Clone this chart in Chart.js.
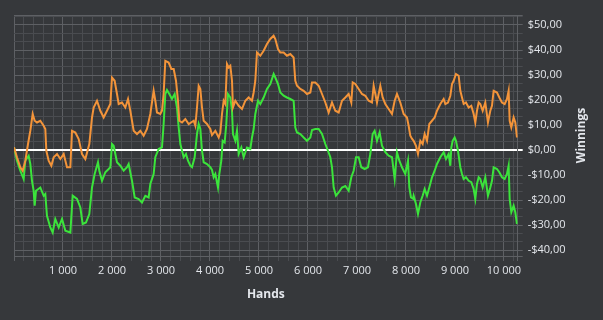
<!DOCTYPE html>
<html>
<head>
<meta charset="utf-8">
<script src="https://cdn.jsdelivr.net/npm/chart.js@4"></script>
<style>
  body { margin: 0; background: #36383b; }
  canvas { display: block; }
</style>
</head>
<body>
<canvas id="myChart" width="603" height="320"></canvas>
<script>
// Values (hands played, winnings in $)
var orangeHands = [0, 61, 129, 177, 231, 286, 333, 381, 422, 469, 537, 605, 639, 660, 707, 762, 810, 878, 946, 1014,
    1082, 1150, 1184, 1252, 1320, 1388, 1456, 1537, 1592, 1626, 1694, 1762, 1830, 1898, 1966, 2000, 2054, 2102, 2136, 2204,
    2272, 2327, 2374, 2442, 2510, 2578, 2646, 2714, 2782, 2850, 2884, 2918, 2986, 3020, 3054, 3088, 3156, 3211, 3259, 3306,
    3347, 3374, 3429, 3497, 3565, 3667, 3701, 3735, 3769, 3803, 3837, 3871, 3939, 4007, 4041, 4109, 4177, 4211, 4245, 4279,
    4313, 4347, 4381, 4415, 4449, 4469, 4517, 4585, 4653, 4721, 4789, 4857, 4891, 4925, 4959, 5027, 5095, 5163, 5231, 5299,
    5333, 5388, 5435, 5503, 5571, 5639, 5707, 5741, 5776, 5844, 5912, 5980, 6048, 6082, 6150, 6218, 6286, 6354, 6422, 6490,
    6558, 6626, 6694, 6762, 6830, 6884, 6912, 6966, 7034, 7102, 7170, 7238, 7306, 7340, 7374, 7408, 7476, 7524, 7578, 7646,
    7714, 7769, 7816, 7884, 7952, 8020, 8054, 8088, 8122, 8156, 8204, 8245, 8293, 8340, 8381, 8429, 8476, 8531, 8585, 8633,
    8701, 8769, 8803, 8857, 8905, 8939, 8973, 9020, 9075, 9109, 9143, 9177, 9224, 9279, 9333, 9381, 9415, 9449, 9483, 9517,
    9565, 9619, 9673, 9721, 9755, 9789, 9857, 9905, 9959, 10014, 10061, 10095, 10116, 10150, 10197, 10231, 10265];
var orangeWinnings = [1.1, -2.9, -6.9, -8.3, -4.3, 2.4, 7.7, 14.4, 11.7, 11, 11.7, 9.7, 8.4, -0.3, -4.3, -6.3, -2.9, -1.6, -3.6, -1.6,
    -6.9, -6.9, 7.7, 7, 4.4, -1.6, -3.6, 2.4, 13, 17, 19.7, 15.7, 13, 15.7, 18.4, 29, 27.7, 22.4, 18.4, 19,
    17, 20.4, 15.7, 7.7, 6.4, 7.7, 5.7, 8.4, 14.4, 23.7, 19.7, 15, 14.4, 15.7, 22.4, 35.7, 35, 32.4, 32.4, 27.7,
    19.7, 11.7, 11, 12.4, 10.4, 11.7, 9.7, 17, 25.7, 24.4, 17, 11.7, 10.4, 8.4, 6, 7.7, 5, 7, 14.4, 19.7,
    18.4, 34.4, 33, 33.7, 27.7, 17, 19.7, 17.7, 16.4, 19.7, 21, 19.7, 23, 27.7, 39, 37.7, 39.7, 42.4, 44.4, 45.7,
    44.4, 40.4, 39, 39, 37.7, 38.4, 37, 27.7, 25.7, 24.4, 23.7, 22.4, 23, 27, 27, 25.7, 22.4, 19, 15, 19,
    15.7, 15, 19.7, 21, 22.4, 19, 27, 26.4, 24.4, 22.4, 21.7, 19.7, 19, 25.7, 22.4, 19, 25.7, 21, 18.4, 16.4,
    14.4, 19.7, 22.4, 19, 14.4, 13, 9.7, 5.7, 4.5, 3.7, 1.7, -1.6, 3.7, 2.4, 6.4, 3.7, 10.4, 11.7, 13, 15.7,
    18.4, 20.4, 18.4, 19, 21.7, 26.4, 27.7, 30.4, 29.7, 23.7, 21, 18.4, 19, 17, 17.7, 14.4, 11, 15.7, 19, 18.4,
    15.7, 19, 11, 15.7, 17.7, 23.7, 23, 21, 19, 18.4, 20.4, 23.7, 11.7, 9, 13, 11, 5];

var greenHands = [0, 61, 129, 197, 231, 299, 333, 367, 401, 422, 449, 537, 605, 639, 673, 741, 789, 843, 912, 980,
    1048, 1150, 1197, 1286, 1354, 1401, 1469, 1537, 1592, 1646, 1714, 1741, 1796, 1864, 1932, 1966, 2000, 2034, 2068, 2102,
    2170, 2238, 2306, 2340, 2408, 2463, 2544, 2612, 2680, 2748, 2782, 2850, 2884, 2952, 3020, 3054, 3088, 3122, 3170, 3224,
    3279, 3326, 3361, 3395, 3429, 3463, 3510, 3551, 3599, 3633, 3687, 3735, 3769, 3803, 3837, 3871, 3939, 4007, 4041, 4075,
    4109, 4163, 4190, 4231, 4258, 4299, 4333, 4367, 4415, 4449, 4469, 4517, 4551, 4585, 4640, 4687, 4755, 4823, 4857, 4891,
    4925, 4980, 5027, 5095, 5163, 5231, 5299, 5333, 5388, 5435, 5503, 5571, 5639, 5707, 5741, 5776, 5844, 5912, 5980, 6048,
    6082, 6150, 6218, 6286, 6354, 6408, 6456, 6490, 6524, 6571, 6626, 6694, 6762, 6830, 6884, 6932, 6980, 7034, 7088, 7156,
    7224, 7272, 7320, 7360, 7408, 7462, 7510, 7578, 7646, 7714, 7769, 7816, 7864, 7918, 7986, 8041, 8068, 8102, 8143, 8156,
    8204, 8245, 8293, 8340, 8381, 8429, 8476, 8531, 8585, 8633, 8701, 8769, 8816, 8871, 8905, 8925, 8952, 8993, 9020, 9061,
    9109, 9143, 9177, 9224, 9279, 9333, 9381, 9415, 9449, 9483, 9517, 9565, 9619, 9673, 9721, 9755, 9789, 9857, 9905, 9959,
    10014, 10061, 10095, 10116, 10150, 10197, 10231, 10265];
var greenWinnings = [1, -4.3, -8.3, -11.6, -4.3, -2.3, -5.6, -12.3, -16.3, -22.3, -16.3, -15, -18.3, -17.6, -26.3, -31, -33, -27.6, -31, -27.6,
    -32.3, -33, -18.3, -19.6, -23, -29.6, -29, -25.6, -15, -9.6, -4.9, -8.3, -12.3, -8.9, -7.6, -6.9, 2.4, 1.7, -1.6, -4.9,
    -6.3, -8.3, -6.9, -5.6, -12.3, -19, -19.6, -21, -18.3, -19, -13.6, -9.6, -2.9, 0.4, 1.1, 10.4, 22.4, 24, 22.4, 20.4,
    22.4, 17, 9, 2.4, -0.3, -2.9, -1.6, -4.3, -6.3, -6.9, -2.9, 6.4, 10.4, 8.4, -0.3, -4.9, -5.6, -6.9, -8, -10.9,
    -9.6, -15, -9.6, -4.3, 3.7, 3, 10.4, 22.4, 21, 15.7, 6.4, 3.7, 7.7, -1.6, 1, -2.9, 1, 0.4, 5, 8.4,
    14.4, 19.7, 18.4, 21, 24.4, 26.4, 30.4, 29, 26.4, 23, 21.7, 21, 20.4, 19.7, 9, 7, 6.4, 5, 3.7, 5,
    8, 8.4, 8.4, 6.4, 2.4, -0.3, -2.9, -6.9, -15, -18.3, -17, -15, -14.4, -16.3, -10.9, -8.3, -2.9, -2.9, -6.9, -7.6,
    -6.9, -1.6, 6.4, 7.7, 3.7, 7, 1.7, -0.9, -2.3, -2.9, -11.6, -0.9, -4.3, -6.9, -9.6, -4.3, -15, -19, -19.5, -18.3,
    -21.6, -25.6, -20.9, -18.3, -15.6, -18.3, -15, -10.9, -8.3, -5.6, -2.9, -0.9, -3.6, -1.6, -6.3, 1, 3.7, 5, 3.7, -0.3,
    -6.9, -9.6, -11.6, -10.9, -12.3, -12.9, -15.6, -19.6, -13.6, -10.9, -11.6, -15, -10.9, -18.3, -15, -12.3, -6.9, -7.6, -8.9, -10.9,
    -11.6, -9.6, -6.3, -19.6, -24.9, -22.3, -24.9, -29.6];

// Axis ranges and grid steps
var handsMax = 10280;
var handsStep = 200;
var winMin = -42.4;
var winMax = 54;
var winStep = 10 / 3;

function toPoints(xs, ys) {
    return xs.map(function (x, i) { return { x: x, y: ys[i] }; });
}

function isMultiple(v, step) {
    return Math.abs(v / step - Math.round(v / step)) < 1e-6;
}

function money(v) {
    var r = Math.round(v);
    var s = '$' + Math.abs(r).toFixed(2).replace('.', ',');
    return r < 0 ? '-' + s : s;
}

var minorGrid = '#4a4c50';
var majorGrid = '#5e6064';
var labelColor = '#e4e7ec';

// Draws the right-hand axis title reading bottom to top
var winningsTitle = {
    id: 'winningsTitle',
    afterDraw: function (chart) {
        var ctx = chart.ctx;
        var area = chart.chartArea;
        ctx.save();
        ctx.translate(582, (area.top + area.bottom) / 2);
        ctx.rotate(-Math.PI / 2);
        ctx.font = 'bold 12px "Open Sans"';
        ctx.fillStyle = labelColor;
        ctx.textAlign = 'center';
        ctx.textBaseline = 'middle';
        ctx.fillText('Winnings', 0, 0);
        ctx.restore();
    }
};

var ctx = document.getElementById('myChart').getContext('2d');
var myChart = new Chart(ctx, {
    type: 'line',
    data: {
        datasets: [{
            data: toPoints(orangeHands, orangeWinnings),
            borderColor: '#f3943a',
            borderWidth: 2,
            pointRadius: 0,
            tension: 0
        }, {
            data: toPoints(greenHands, greenWinnings),
            borderColor: '#3be43b',
            borderWidth: 2,
            pointRadius: 0,
            tension: 0
        }]
    },
    options: {
        responsive: false,
        animation: false,
        events: [],
        layout: { padding: { left: 14, top: 15, right: 0, bottom: 0 } },
        plugins: {
            legend: { display: false },
            tooltip: { enabled: false }
        },
        scales: {
            x: {
                type: 'linear',
                min: 0,
                max: handsMax,
                afterFit: function (scale) { scale.height = 64; },
                afterBuildTicks: function (scale) {
                    var ticks = [];
                    for (var v = 0; v < handsMax; v += handsStep) ticks.push({ value: v });
                    ticks.push({ value: handsMax });
                    scale.ticks = ticks;
                },
                border: { color: majorGrid, width: 1 },
                grid: {
                    tickLength: 5,
                    color: function (c) {
                        var v = c.tick ? c.tick.value : 0;
                        return (isMultiple(v, 1000) || v === handsMax) ? majorGrid : minorGrid;
                    }
                },
                ticks: {
                    autoSkip: false,
                    maxRotation: 0,
                    padding: 3,
                    color: labelColor,
                    font: { family: 'Open Sans', size: 11 },
                    callback: function (v) {
                        if (v === 0 || !isMultiple(v, 1000)) return '';
                        return String(v).replace(/\B(?=(\d{3})+(?!\d))/g, ' ');
                    }
                },
                title: {
                    display: true,
                    text: 'Hands',
                    color: labelColor,
                    font: { family: 'Open Sans', size: 12, weight: 'bold' },
                    padding: { top: 0, bottom: 18 }
                }
            },
            y: {
                position: 'right',
                min: winMin,
                max: winMax,
                afterFit: function (scale) { scale.width = 85.3; },
                afterBuildTicks: function (scale) {
                    var ticks = [{ value: winMin }];
                    for (var k = Math.ceil(winMin / winStep); k * winStep < winMax; k++) {
                        ticks.push({ value: (k * 10) / 3 });
                    }
                    ticks.push({ value: winMax });
                    scale.ticks = ticks;
                },
                border: { color: majorGrid, width: 1 },
                grid: {
                    tickLength: 5,
                    color: function (c) {
                        var v = c.tick ? c.tick.value : 0;
                        if (Math.abs(v) < 1e-6) return '#ffffff';
                        return (isMultiple(v, 10) || v === winMax || v === winMin) ? majorGrid : minorGrid;
                    },
                    lineWidth: function (c) {
                        var v = c.tick ? c.tick.value : 1;
                        return Math.abs(v) < 1e-6 ? 2 : 1;
                    }
                },
                ticks: {
                    autoSkip: false,
                    padding: 5,
                    color: labelColor,
                    font: { family: 'Open Sans', size: 11 },
                    callback: function (v) {
                        if (!isMultiple(v, 10)) return '';
                        return money(v);
                    }
                }
            }
        }
    },
    plugins: [winningsTitle]
});
</script>
</body>
</html>
